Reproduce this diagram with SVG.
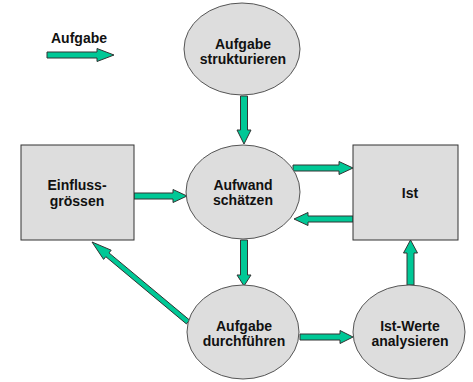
<svg xmlns="http://www.w3.org/2000/svg" width="473" height="382" viewBox="0 0 473 382">
<style>
.n{fill:#dddddd;stroke:#555555;stroke-width:1}
.r{fill:#dddddd;stroke:#333333;stroke-width:1}
.a{fill:#00c896;stroke:#333333;stroke-width:1;stroke-linejoin:miter}
text{font-family:"Liberation Sans",Arial,sans-serif;font-weight:bold;font-size:14px;fill:#111111;text-anchor:middle}
</style>
<rect width="473" height="382" fill="#ffffff"/>
<g id="legend">
<text x="79" y="43">Aufgabe</text>
<polygon class="a" points="47,52 97,52 97,48.5 114,55 97,61.5 97,58 47,58"/>
</g>
<g id="connectors">
<polygon class="a" points="240.5,96 247.5,96 247.5,130 251,130 244,144 237,130 240.5,130"/>
<polygon class="a" points="134,193 173,193 173,189.5 187,196 173,202.5 173,199 134,199"/>
<polygon class="a" points="293,165 339,165 339,161.5 353,168 339,174.5 339,171 293,171"/>
<polygon class="a" points="353,216 308,216 308,212.5 294,219 308,225.5 308,222 353,222"/>
<polygon class="a" points="240.5,240 247.5,240 247.5,275 251,275 244,286 237,275 240.5,275"/>
<polygon class="a" points="300,334 340,334 340,330.5 353,337 340,343.5 340,340 300,340"/>
<polygon class="a" points="407,285 414,285 414,253 417.5,253 410.5,240 403.5,253 407,253"/>
<polygon class="a" points="189.6,320.1 109,252.9 111.2,250.2 92,242 103.6,259.4 105.8,256.7 186.4,323.9"/>
</g>
<g id="strukturieren">
<ellipse class="n" cx="242" cy="49" rx="58" ry="46"/>
<text x="243" y="49">Aufgabe</text>
<text x="243" y="64">strukturieren</text>
</g>
<g id="einfluss">
<rect class="r" x="21" y="145" width="113" height="95"/>
<text x="77" y="190">Einfluss-</text>
<text x="77" y="206">grössen</text>
</g>
<g id="aufwand">
<ellipse class="n" cx="243" cy="192" rx="57" ry="47"/>
<text x="243" y="190">Aufwand</text>
<text x="243" y="205">schätzen</text>
</g>
<g id="ist">
<rect class="r" x="353" y="145" width="105" height="95"/>
<text x="410" y="198">Ist</text>
</g>
<g id="durchfuehren">
<ellipse class="n" cx="243" cy="332" rx="56" ry="47"/>
<text x="244" y="331">Aufgabe</text>
<text x="244" y="346">durchführen</text>
</g>
<g id="istwerte">
<ellipse class="n" cx="409" cy="332" rx="56" ry="47"/>
<text x="410" y="331">Ist-Werte</text>
<text x="410" y="346">analysieren</text>
</g>
</svg>
